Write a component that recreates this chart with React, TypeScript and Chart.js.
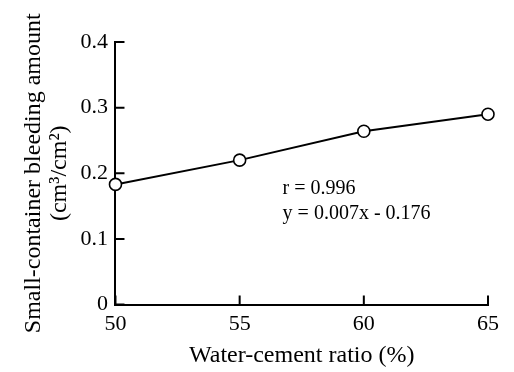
import React, { useEffect, useRef } from "react";
import { Chart, registerables } from "chart.js";

Chart.register(...registerables);

const waterCementRatio = [50, 55, 60, 65];
const bleedingAmount = [0.183, 0.220, 0.264, 0.290];
const xTicks = [50, 55, 60, 65];
const yTicks = [0, 0.1, 0.2, 0.3, 0.4];
const annotationLines = ["r = 0.996", "y = 0.007x - 0.176"];
const annotationAnchor = { x: 56.73, y: 0.177 };

const FONT = "'Liberation Serif', 'Times New Roman', serif";

const innerTicks = {
  id: "innerTicks",
  afterDraw(chart: any) {
    const { ctx, scales } = chart;
    const xs = scales.x;
    const ys = scales.y;
    const len = 9;
    ctx.save();
    ctx.strokeStyle = "#000";
    ctx.lineWidth = 2;
    ctx.beginPath();
    for (const v of xTicks) {
      const px = xs.getPixelForValue(v);
      ctx.moveTo(px, ys.bottom);
      ctx.lineTo(px, ys.bottom - len);
    }
    for (const v of yTicks) {
      const py = ys.getPixelForValue(v);
      ctx.moveTo(xs.left, py);
      ctx.lineTo(xs.left + len, py);
    }
    ctx.stroke();
    ctx.fillStyle = "#000";
    ctx.font = `20px ${FONT}`;
    ctx.textAlign = "left";
    ctx.textBaseline = "middle";
    const ax = xs.getPixelForValue(annotationAnchor.x);
    const ay = ys.getPixelForValue(annotationAnchor.y);
    annotationLines.forEach((t, i) => ctx.fillText(t, ax, ay + i * 25));
    ctx.restore();
  },
};

export default function App() {
  const ref = useRef<HTMLCanvasElement>(null);
  useEffect(() => {
    document.body.style.margin = "0";
    const chart = new Chart(ref.current!, {
      type: "line",
      data: {
        datasets: [
          {
            data: waterCementRatio.map((x, i) => ({ x, y: bleedingAmount[i] })),
            borderColor: "#000",
            borderWidth: 2,
            pointRadius: 6,
            pointBackgroundColor: "#fff",
            pointBorderColor: "#000",
            pointBorderWidth: 1.6,
            tension: 0,
            clip: false as any,
          },
        ],
      },
      options: {
        animation: false,
        responsive: false,
        layout: { padding: { left: 17, right: 26, top: 42, bottom: 0 } },
        plugins: { legend: { display: false }, tooltip: { enabled: false } },
        scales: {
          x: {
            type: "linear",
            min: 50,
            max: 65,
            afterBuildTicks: (s: any) => {
              s.ticks = xTicks.map((v) => ({ value: v }));
            },
            grid: { display: true, drawOnChartArea: false, drawTicks: false, tickLength: 0 },
            border: { color: "#000", width: 2 },
            ticks: { color: "#000", font: { family: FONT, size: 22, lineHeight: 1 }, padding: 8.5, maxRotation: 0 },
            title: {
              display: true,
              text: "Water-cement ratio (%)",
              color: "#000",
              font: { family: FONT, size: 24, lineHeight: 1 },
              padding: { top: 0, bottom: 4.5 },
            },
          },
          y: {
            type: "linear",
            min: 0,
            max: 0.4,
            afterBuildTicks: (s: any) => {
              s.ticks = yTicks.map((v) => ({ value: v }));
            },
            grid: { display: true, drawOnChartArea: false, drawTicks: false, tickLength: 0 },
            border: { color: "#000", width: 2 },
            ticks: { color: "#000", font: { family: FONT, size: 22, lineHeight: 1 }, padding: 7.5 },
            title: {
              display: true,
              text: ["Small-container bleeding amount", "(cm\u00B3/cm\u00B2)"],
              color: "#000",
              font: { family: FONT, size: 24, lineHeight: 1.083 },
              padding: { top: 4, bottom: 0 },
            },
          },
        },
      },
      plugins: [innerTicks],
    });
    return () => chart.destroy();
  }, []);
  return (
    <div style={{ position: "absolute", left: 0, top: 0, width: 514, height: 372 }}>
      <canvas ref={ref} width={514} height={372} style={{ width: 514, height: 372 }} />
    </div>
  );
}
